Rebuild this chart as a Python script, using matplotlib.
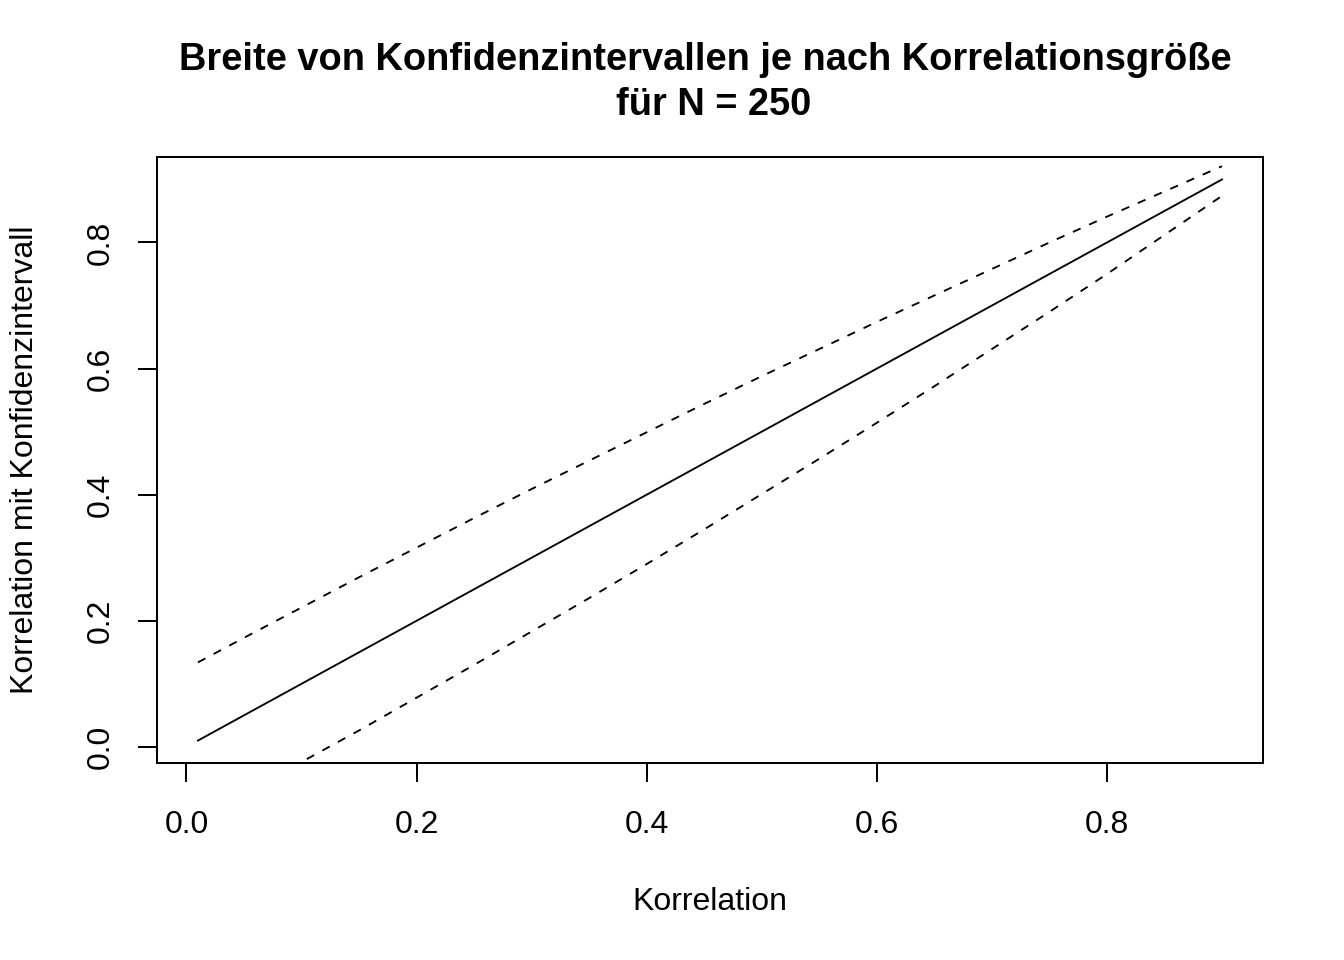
import matplotlib.pyplot as plt
import numpy as np

plt.rcParams['font.family'] = ['Liberation Sans', 'DejaVu Sans']

# Korrelation und Konfidenzgrenzen
korrelation = [0.01, 0.05, 0.10, 0.15, 0.20, 0.25, 0.30, 0.35, 0.40, 0.45,
               0.50, 0.55, 0.60, 0.65, 0.70, 0.75, 0.80, 0.85, 0.90]
untere = [-0.114, -0.075, -0.024, 0.026, 0.078, 0.130, 0.183, 0.236, 0.290, 0.345,
          0.401, 0.457, 0.514, 0.572, 0.631, 0.690, 0.750, 0.812, 0.874]
obere = [0.134, 0.173, 0.221, 0.269, 0.316, 0.363, 0.409, 0.454, 0.499, 0.544,
         0.588, 0.631, 0.674, 0.716, 0.758, 0.800, 0.841, 0.881, 0.921]

W, H = 1344, 960
fig = plt.figure(figsize=(7, 5), dpi=192)
ax = fig.add_axes([157/W, 1-763/H, (1263-157)/W, (763-157)/H])

ax.plot(korrelation, korrelation, color='black', lw=0.7)
ax.plot(korrelation, obere, color='black', lw=0.7, linestyle=(0, (4.5, 5)))
ax.plot(korrelation, untere, color='black', lw=0.7, linestyle=(0, (4.5, 5)))

# R-Stil: 4% Rand um den Datenbereich
xr = max(korrelation) - min(korrelation)
ax.set_xlim(min(korrelation) - 0.04*xr, max(korrelation) + 0.04*xr)
ax.set_ylim(min(korrelation) - 0.04*xr, max(korrelation) + 0.04*xr)

ax.set_xticks([0.0, 0.2, 0.4, 0.6, 0.8])
ax.set_yticks([0.0, 0.2, 0.4, 0.6, 0.8])
ax.set_xticklabels(['0.0', '0.2', '0.4', '0.6', '0.8'], fontsize=12)
ax.set_yticklabels(['0.0', '0.2', '0.4', '0.6', '0.8'], fontsize=12,
                   rotation=90, va='center')
ax.tick_params(axis='x', length=7.1, width=0.75, pad=10.6)
ax.tick_params(axis='y', length=7.1, width=0.75, pad=8.4)
for s in ax.spines.values():
    s.set_linewidth(0.75)

fig.text(705/W, 1-60/H, 'Breite von Konfidenzintervallen je nach Korrelationsgröße',
         ha='center', va='center', fontsize=14.25, fontweight='bold')
fig.text(714/W, 1-105/H, 'für N = 250',
         ha='center', va='center', fontsize=14.25, fontweight='bold')
fig.text(710/W, 1-902/H, 'Korrelation', ha='center', va='center', fontsize=12)
fig.text(25/W, 1-460/H, 'Korrelation mit Konfidenzintervall', ha='center',
         va='center', rotation=90, fontsize=12)

fig.savefig('out.png', dpi=192)
